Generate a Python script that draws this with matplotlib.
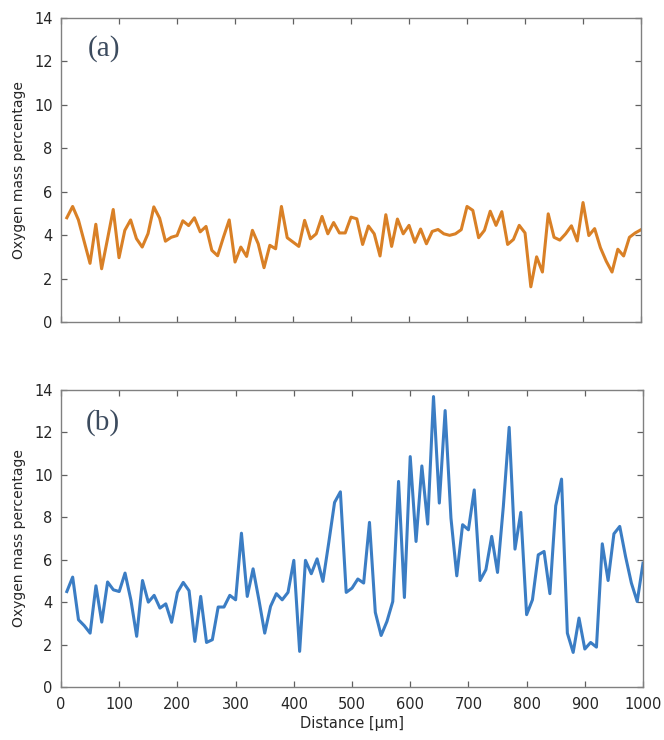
import matplotlib
matplotlib.use("Agg")
import matplotlib.pyplot as plt
import numpy as np

# sampling positions along the scan line [um]
distance = np.arange(10, 1001, 10)

# oxygen content, sample (a)
oxygen_a = [
    4.8, 5.32, 4.7, 3.7, 2.7, 4.5, 2.45, 3.8, 5.18, 2.96,
    4.22, 4.7, 3.84, 3.45, 4.07, 5.3, 4.78, 3.72, 3.9, 3.98,
    4.66, 4.44, 4.8, 4.15, 4.4, 3.3, 3.05, 3.9, 4.7, 2.76,
    3.45, 3.02, 4.22, 3.6, 2.5, 3.53, 3.37, 5.32, 3.88, 3.68,
    3.48, 4.68, 3.83, 4.06, 4.86, 4.06, 4.58, 4.1, 4.1, 4.83,
    4.75, 3.57, 4.42, 4.06, 3.04, 4.94, 3.48, 4.74, 4.06, 4.45,
    3.67, 4.28, 3.6, 4.17, 4.26, 4.06, 3.99, 4.06, 4.25, 5.32,
    5.14, 3.88, 4.22, 5.1, 4.45, 5.08, 3.57, 3.8, 4.45, 4.1,
    1.62, 3.0, 2.3, 4.98, 3.9, 3.77, 4.06, 4.43, 3.73, 5.5,
    3.98, 4.3, 3.42, 2.8, 2.3, 3.35, 3.04, 3.9, 4.1, 4.25,
]

# oxygen content, sample (b)
oxygen_b = [
    4.5, 5.18, 3.17, 2.89, 2.54, 4.77, 3.06, 4.95, 4.58, 4.5,
    5.37, 4.11, 2.39, 5.02, 4.0, 4.32, 3.72, 3.92, 3.05, 4.46,
    4.93, 4.54, 2.15, 4.27, 2.1, 2.23, 3.77, 3.77, 4.32, 4.11,
    7.25, 4.27, 5.57, 4.11, 2.54, 3.8, 4.4, 4.11, 4.46, 5.97,
    1.68, 5.97, 5.34, 6.04, 4.98, 6.8, 8.7, 9.2, 4.46, 4.66,
    5.09, 4.9, 7.76, 3.52, 2.43, 3.09, 4.03, 9.69, 4.22, 10.86,
    6.86, 10.42, 7.68, 13.69, 8.67, 13.03, 7.96, 5.24, 7.65, 7.41,
    9.29, 5.02, 5.53, 7.1, 5.4, 8.51, 12.24, 6.5, 8.23, 3.41,
    4.11, 6.23, 6.39, 4.4, 8.54, 9.8, 2.54, 1.63, 3.25, 1.79,
    2.1, 1.88, 6.75, 5.02, 7.22, 7.57, 6.15, 4.9, 4.03, 5.84,
]

x_ticks = np.arange(0, 1001, 100)
y_ticks = np.arange(0, 15, 2)

plt.rcParams["font.family"] = ["DejaVu Sans"]

fig = plt.figure(figsize=(6.64, 7.40), dpi=100)
ax_a = fig.add_axes([0.0919, 0.5649, 0.8735, 0.4108])
ax_b = fig.add_axes([0.0919, 0.0716, 0.8765, 0.4014])


def style_axes(ax, show_xlabels):
    ax.set_xlim(0, 1000)
    ax.set_ylim(0, 14)
    ax.set_xticks(x_ticks)
    ax.set_yticks(y_ticks)
    for sp in ax.spines.values():
        sp.set_color("#808080")
        sp.set_linewidth(1.0)
    ax.tick_params(direction="in", length=4, width=0.9, color="#606060",
                   top=True, right=True, labelsize=10.5, labelcolor="#262626")
    ax.tick_params(axis="y", pad=6)
    ax.tick_params(axis="x", pad=7)
    if not show_xlabels:
        ax.tick_params(labelbottom=False)
    ax.set_ylabel("Oxygen mass percentage", fontsize=10, color="#262626",
                  labelpad=6)


ax_a.plot(distance, oxygen_a, color="#D98026", linewidth=2.2)
style_axes(ax_a, False)
ax_a.text(74, 12.6, "(a)", family="Liberation Serif", fontsize=21,
          color="#3C4B5E", ha="center", va="center")

ax_b.plot(distance, oxygen_b, color="#3B7DC4", linewidth=2.2)
style_axes(ax_b, True)
ax_b.text(72, 12.45, "(b)", family="Liberation Serif", fontsize=21,
          color="#3C4B5E", ha="center", va="center")
ax_b.set_xlabel("Distance [\u03bcm]", fontsize=10.5, color="#262626",
                labelpad=3)

fig.savefig("out.png", dpi=100)
